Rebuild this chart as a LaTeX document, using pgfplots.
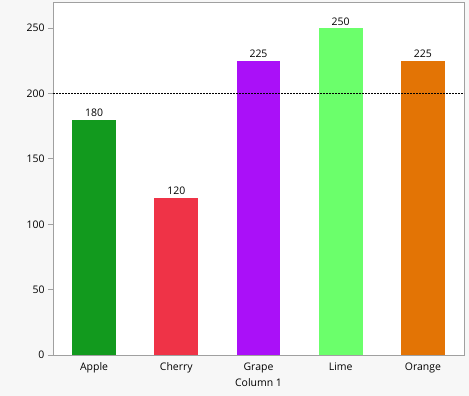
\documentclass[border=0pt]{standalone}
\usepackage{pgfplots}
\pgfplotsset{compat=1.18}
\usepackage{fontspec}
\setmainfont{Open Sans}
\definecolor{bgc}{HTML}{F7F7F7}
\definecolor{axc}{HTML}{A0A0A0}
\definecolor{capple}{HTML}{129A1E}
\definecolor{ccherry}{HTML}{EF3347}
\definecolor{cgrape}{HTML}{AA10F8}
\definecolor{clime}{HTML}{6BFF6B}
\definecolor{corange}{HTML}{E37405}
\begin{document}
\begin{tikzpicture}
\fill[bgc] (0,0) rectangle (469bp,396bp);
\useasboundingbox (0,0) rectangle (469bp,396bp);
\begin{axis}[
  at={(53bp,41bp)}, anchor=south west,
  scale only axis, width=411bp, height=353bp,
  xmin=-0.5, xmax=4.5, ymin=0, ymax=270,
  xtick={0,1,2,3,4},
  xticklabels={Apple,Cherry,Grape,Lime,Orange},
  ytick={0,50,100,150,200,250},
  axis line style={axc},
  axis background/.style={fill=white},
  tick style={axc, line width=0.8pt},
  major tick length=5bp,
  xtick style={draw=none},
  ytick pos=left, tick align=outside,
  xlabel={Column 1},
  xlabel style={yshift=1bp},
  tick label style={font=\fontsize{10.5}{12}\selectfont, text=black},
  xticklabel style={yshift=1bp},
  label style={font=\fontsize{10.5}{12}\selectfont},
  /pgf/number format/assume math mode=true,
  mybar/.style={ybar, bar width=0.535, bar shift=0pt, draw=none,
    nodes near coords,
    nodes near coords style={font=\fontsize{10.5}{12}\selectfont, text=black, yshift=-0.5bp}},
]
\addplot[mybar, fill=capple] coordinates {(0,180)};
\addplot[mybar, fill=ccherry] coordinates {(1,120)};
\addplot[mybar, fill=cgrape] coordinates {(2,225)};
\addplot[mybar, fill=clime] coordinates {(3,250)};
\addplot[mybar, fill=corange] coordinates {(4,225)};
\addplot[sharp plot, black, line width=0.7pt, dash pattern=on 1.5bp off 1.5bp] coordinates {(-0.5,200) (4.5,200)};
\end{axis}
\end{tikzpicture}
\end{document}
